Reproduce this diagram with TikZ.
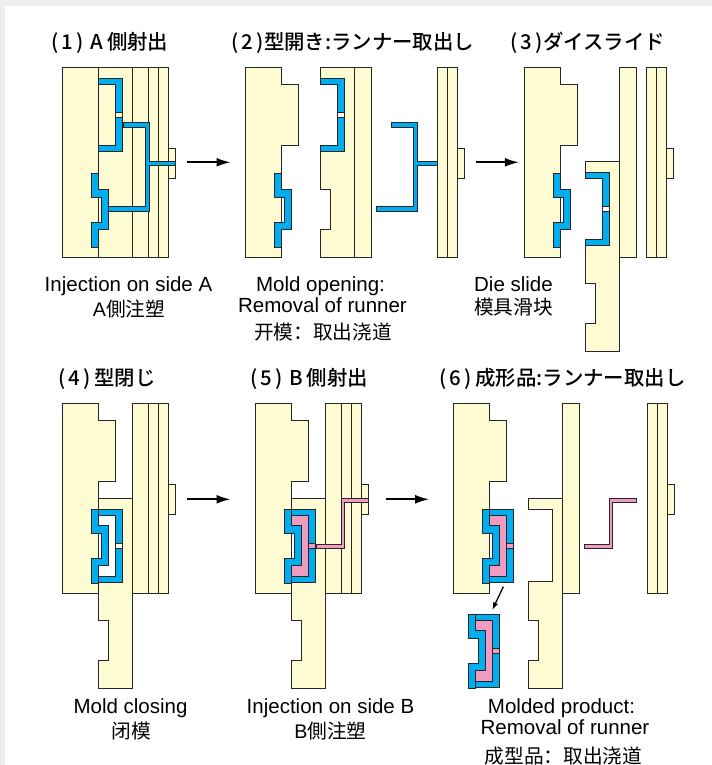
\documentclass[tikz,border=0pt]{standalone}
\usepackage{fontspec}
\setmainfont{Liberation Sans}
\newfontfamily\cjk{Noto Sans CJK SC}
\newfontfamily\cjktitle{Noto Sans CJK JP Medium}
\usetikzlibrary{arrows.meta}
\definecolor{moldyellow}{HTML}{FFFBD2}
\definecolor{resinblue}{HTML}{00AEEF}
\definecolor{resinpink}{HTML}{F29BC2}
\definecolor{framegray}{HTML}{EEEEEE}
\tikzset{
	mold/.style={draw=black!85, line width=1.35pt, fill=moldyellow},
	blueresin/.style={draw=black!85, line width=1.35pt, fill=resinblue},
	pinkresin/.style={draw=black!85, line width=1.35pt, fill=resinpink},
	whitegate/.style={draw=black!85, line width=1.35pt, fill=white},
	bigarrow/.style={line width=1.6pt, -{Latex[length=12pt, width=7.5pt]}},
	smallarrow/.style={line width=1.1pt, -{Latex[length=6.5pt, width=4.5pt]}},
	steptitle/.style={anchor=base west, inner sep=0pt, font=\fontsize{17.4}{20}\selectfont\cjktitle},
	caption/.style={anchor=base, inner sep=0pt, font=\fontsize{17.5}{20}\selectfont},
	captioncjk/.style={anchor=base, inner sep=0pt, font=\fontsize{16.8}{20}\selectfont\cjk}
}
\def\diea(#1){\draw[mold, shift={(#1)}] (0,0) -- (36,0) -- (36,17) -- (53,17) -- (53,78) -- (36,78) -- (36,190) -- (0,190) -- cycle;}
\def\corea(#1){\draw[blueresin, shift={(#1)}] (29,106) -- (36,106) -- (36,122) -- (46,122) -- (46,162) -- (36,162) -- (36,180) -- (29,180) -- (29,155) -- (39,155) -- (39,130) -- (29,130) -- cycle;}
\def\slideb(#1){\draw[mold, shift={(#1)}] (0,0) -- (34,0) -- (34,190) -- (0,190) -- (0,162) -- (10,162) -- (10,122) -- (0,122) -- (0,78) -- (17,78) -- (17,17) -- (0,17) -- cycle;}
\def\cavityb[#1](#2){\draw[blueresin, shift={(#2)}] (0,11) -- (24,11) -- (24,84) -- (0,84) -- (0,78) -- (17,78) -- (17,17) -- (0,17) -- cycle;
	\draw[#1, shift={(#2)}] (17,45) rectangle (24,50);}
\def\product(#1){\corea(#1)
	\begin{scope}[shift={(#1)}]
		\cavityb[pinkresin](36,95)
		\draw[pinkresin] (36,112) -- (53,112) -- (53,173) -- (36,173) -- (36,162) -- (46,162) -- (46,122) -- (36,122) -- cycle;
	\end{scope}}
\def\plateb(#1){\draw[mold, shift={(#1)}] (0,0) rectangle (17,190);}
\def\backplate(#1){\draw[mold, shift={(#1)}] (20,81) rectangle (27,111);
	\draw[mold, shift={(#1)}] (0,0) rectangle (10,190);
	\draw[mold, shift={(#1)}] (10,0) rectangle (20,190);}
\def\bluerunner(#1){\draw[blueresin, shift={(#1)}] (61,55) -- (87,55) -- (87,94) -- (113,94) -- (113,98) -- (87,98) -- (87,144) -- (46,144) -- (46,139) -- (83,139) -- (83,60) -- (61,60) -- cycle;}
\def\pinkrunner(#1){\draw[pinkresin, shift={(#1)}] (61,141) -- (86,141) -- (86,95) -- (113,95) -- (113,99) -- (89,99) -- (89,145) -- (61,145) -- cycle;}

\begin{document}
\begin{tikzpicture}[x=0.03cm, y=-0.03cm]
	%%%%% START %%%%%
	\useasboundingbox (0,0) rectangle (712,765);
	\fill[framegray] (0,0) rectangle (712,765);
	\fill[white] (5,6) rectangle (712,765);

	% (1)
	\draw[mold] (62.5,67.5) rectangle (132.5,257.5);
	\draw[black!85, line width=1.35pt] (98.5,67.5) -- (98.5,257.5);
	\plateb(132.5,67.5)
	\backplate(148.5,67.5)
	\cavityb[mold](98.5,67.5)
	\corea(62.5,67.5)
	\bluerunner(62.5,67.5)

	% (2)
	\diea(245.5,67.5)
	\corea(245.5,67.5)
	\slideb(320.5,67.5)
	\cavityb[whitegate](320.5,67.5)
	\plateb(354.5,67.5)
	\bluerunner(330.5,67.5)
	\backplate(437.5,67.5)

	% (3)
	\diea(524.5,67.5)
	\corea(524.5,67.5)
	\slideb(585.5,161.5)
	\cavityb[whitegate](585.5,161.5)
	\plateb(619.5,67.5)
	\backplate(646.5,67.5)

	% (4)
	\diea(62.5,403.5)
	\slideb(98.5,498.5)
	\plateb(132.5,403.5)
	\backplate(148.5,403.5)
	\corea(62.5,403.5)
	\cavityb[whitegate](98.5,498.5)

	% (5)
	\diea(255.5,403.5)
	\slideb(291.5,498.5)
	\plateb(325.5,403.5)
	\backplate(341.5,403.5)
	\product(255.5,403.5)
	\pinkrunner(255.5,403.5)

	% (6)
	\diea(453.5,403.5)
	\product(453.5,403.5)
	\product(439.5,508.5)
	\draw[mold] (528.5,498.5) -- (562.5,498.5) -- (562.5,688.5) -- (528.5,688.5) -- (528.5,660.5) -- (538.5,660.5) -- (538.5,620.5) -- (528.5,620.5) -- (528.5,581.5) -- (552.5,581.5) -- (552.5,509.5) -- (528.5,509.5) -- cycle;
	\plateb(562.5,403.5)
	\pinkrunner(523.5,403.5)
	\backplate(647.5,403.5)

	% arrows
	\coordinate (arrow1s) at (187.3,162.3);
	\coordinate (arrow1e) at (230.7,162.3);
	\coordinate (arrow2s) at (475.7,162.3);
	\coordinate (arrow2e) at (519,162.3);
	\coordinate (arrow4s) at (187.3,499.3);
	\coordinate (arrow4e) at (230.7,499.3);
	\coordinate (arrow5s) at (386,499.3);
	\coordinate (arrow5e) at (429.3,499.3);
	\coordinate (arrow6s) at (503.3,586.7);
	\coordinate (arrow6e) at (492.3,610);
	\draw[bigarrow] (arrow1s) -- (arrow1e);
	\draw[bigarrow] (arrow2s) -- (arrow2e);
	\draw[bigarrow] (arrow4s) -- (arrow4e);
	\draw[bigarrow] (arrow5s) -- (arrow5e);
	\draw[smallarrow] (arrow6s) -- (arrow6e);

	% titles
	\node[steptitle] (title1) at (51,50) {(\,1\,)\,\,A\,側射出};
	\node[steptitle] (title2) at (231,50) {(\,2\,)型開き:ランナー取出し};
	\node[steptitle] (title3) at (510,50) {(\,3\,)ダイスライド};
	\node[steptitle] (title4) at (58,385) {(\,4\,)\,型閉じ};
	\node[steptitle] (title5) at (250,385) {(\,5\,)\,\,B\,側射出};
	\node[steptitle] (title6) at (439,385) {(\,6\,)\,成形品:ランナー取出し};

	% captions
	\node[caption] (cap1) at (128.5,291.7) {Injection on side A};
	\node[captioncjk] (cap1b) at (129,316) {{\rmfamily A}側注塑};
	\node[caption] (cap2) at (320.5,291.7) {Mold opening:};
	\node[caption] (cap2b) at (322.5,312.7) {Removal of runner};
	\node[captioncjk] (cap2c) at (323,339) {开模：取出浇道};
	\node[caption] (cap3) at (513.5,291.7) {Die slide};
	\node[captioncjk] (cap3b) at (513.5,314.5) {模具滑块};
	\node[caption] (cap4) at (130.5,713.3) {Mold closing};
	\node[captioncjk] (cap4b) at (131,738.5) {闭模};
	\node[caption] (cap5) at (330.5,713.3) {Injection on side B};
	\node[captioncjk] (cap5b) at (330.5,738.5) {{\rmfamily B}側注塑};
	\node[caption] (cap6) at (561.5,713.3) {Molded product:};
	\node[caption] (cap6b) at (565,734.3) {Removal of runner};
	\node[captioncjk] (cap6c) at (563.5,763.5) {成型品：取出浇道};
	%%%%% END %%%%%
\end{tikzpicture}
\end{document}
